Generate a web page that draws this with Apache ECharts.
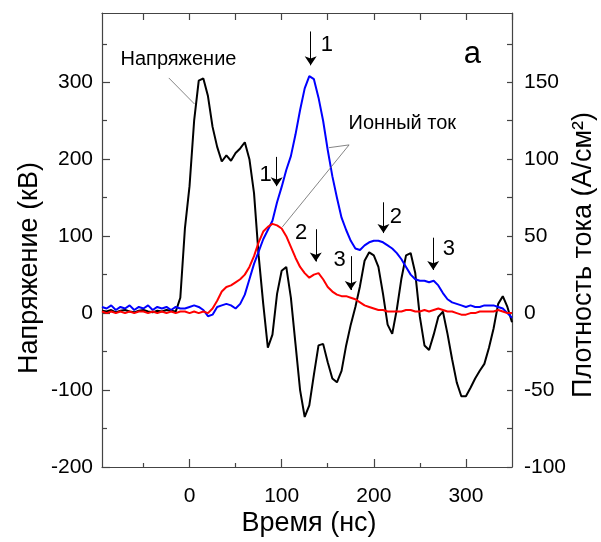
<!DOCTYPE html>
<html>
<head>
<meta charset="utf-8">
<script src="https://cdn.jsdelivr.net/npm/echarts@6/dist/echarts.min.js"></script>
<style>
html, body { margin: 0; padding: 0; background: #fff; }
#container { width: 601px; height: 542px; }
</style>
</head>
<body>
<div id="container"></div>
<script>
var dom = document.getElementById("container");
var myChart = echarts.init(dom);
var FONT = 'Liberation Sans, Arial, sans-serif';

// время, нс (шаг 5 нс)
var time = [];
for (var t = -95; t <= 350; t += 5) time.push(t);

// напряжение, кВ (левая ось)
var voltage = [
    3, 2, 4, 1, 3, 4, 2, 1, 3, 4, 2, 1, 3, 2, 4, 3, 2,        // -95 .. -15
    20, 110, 165, 250, 302, 305, 282, 242, 216, 197, 205, 198, // -10 .. 45
    208, 214, 222, 200, 156, 75, 12, -45, -28, 25, 55, 60,     // 50 .. 105
    20, -40, -100, -135, -120, -80, -42, -40, -64, -85, -90,   // 110 .. 160
    -75, -42, -15, 8, 35, 68, 79, 75, 60, 25, -15, -27, 5,     // 165 .. 225
    45, 75, 78, 52, -5, -42, -48, -28, -5, 2, -27, -60, -90,   // 230 .. 290
    -108, -108, -97, -85, -75, -66, -45, -20, 12, 22, 8, -12   // 295 .. 350
];

// плотность ионного тока 1 (синяя), А/см2 (правая ось)
var currentBlue = [
    4, 3, 5, 2, 4, 3, 5, 2, 4, 3, 5, 2, 4, 3, 4, 2, 4, 3,      // -95 .. -10
    3, 4, 5, 4, 2, -2, -1, 4, 5, 6, 5, 3, 6,                   // -5 .. 55
    12, 22, 32, 40, 48, 54, 60, 72, 82, 93, 102, 116, 132,     // 60 .. 120
    146, 154, 152, 140, 125, 106, 89, 75, 62, 54, 47, 42, 41,  // 125 .. 185
    44, 46, 47, 47, 46, 44, 42, 39, 35, 30, 25, 22, 21, 21,    // 190 .. 255
    20, 21, 18, 13, 9, 7, 6, 5, 4, 5, 4, 4, 5, 5, 5, 4, 3, 0, -3 // 260 .. 350
];

// плотность ионного тока 2 (красная), А/см2 (правая ось)
var currentRed = [
    1, 0, 1, 0, 1, 0, 1, 0, 1, 1, 0, 1, 0, 1, 0, 1, 0, 1,      // -95 .. -10
    1, 0, 1, 0, 1, 0,                                         // -5 .. 20
    3, 8, 14, 17, 18, 20, 22, 25, 30, 37, 46, 53, 56, 58, 57,  // 25 .. 95
    55, 50, 43, 36, 30, 26, 23, 25, 26, 22, 17, 14, 12, 11,    // 100 .. 165
    11, 10, 9, 7, 5, 4, 3, 2, 2, 1, 1, 1, 1, 2, 2, 1, 1, 2,    // 170 .. 255
    1, 2, 3, 2, 1, 1, 0, -1, -1, 0, 0, 1, 1, 1, 1, 2, 1, 0, 0  // 260 .. 350
];

// деления осей
var xLabels = [0, 100, 200, 300];
var xMinor = [-50, 50, 150, 250];
var xTop = [-50, 0, 50, 100, 150, 200, 250, 300, 350];
var yLeftLabels = [-200, -100, 0, 100, 200, 300];
var yLeftMinor = [-150, -50, 50, 150, 250, 350];
var yRightLabels = [-100, -50, 0, 50, 100, 150];
var yRightTicks = [-100, -75, -50, -25, 0, 25, 50, 75, 100, 125, 150, 175];

// подписи на графике (координаты в единицах левой оси)
var notes = [
    { name: 'Напряжение', coord: [-12, 329], size: 20 },
    { name: 'Ионный ток', coord: [231, 247], size: 20 },
    { name: 'а', coord: [307, 336], size: 31 },
    { name: '1', coord: [149, 349], size: 22 },
    { name: '1', coord: [82.5, 179], size: 22 },
    { name: '2', coord: [121, 104], size: 22 },
    { name: '3', coord: [163, 69], size: 22 },
    { name: '2', coord: [224, 125], size: 22 },
    { name: '3', coord: [281.5, 84], size: 22 }
];
// стрелки: [x, y начала, y конца]
var arrows = [
    [131.5, 366, 322],
    [94.6, 203, 165],
    [137, 109, 67],
    [175, 74, 30],
    [210.5, 144, 104],
    [264.5, 98, 56]
];
// выноски
var leaders = [
    [[-22.5, 305.6], [5.4, 271.7]],
    [[173.2, 218.6], [151.4, 215]],
    [[173.2, 218.6], [100.8, 112]]
];

function pairs(values) {
    return values.map(function (v, i) { return [time[i], v]; });
}

var axisColor = '#444';
var tickLabel = { color: '#000', fontSize: 21, fontFamily: FONT };

var markLineData = arrows.map(function (a) {
    return [{ coord: [a[0], a[1]], symbol: 'none' }, { coord: [a[0], a[2]], symbol: 'arrow' }];
}).concat(leaders.map(function (l) {
    return [
        { coord: l[0], symbol: 'none', lineStyle: { color: '#666', width: 0.8 } },
        { coord: l[1], symbol: 'none' }
    ];
}));

var option = {
    animation: false,
    backgroundColor: '#fff',
    grid: { left: 102, right: 89, top: 13, bottom: 75 },
    xAxis: [
        {
            type: 'value', position: 'bottom', min: -95, max: 350,
            axisLine: { show: true, onZero: false, lineStyle: { color: axisColor, width: 1.2 } },
            axisTick: { inside: true, length: 8, customValues: xLabels, lineStyle: { color: axisColor, width: 1.2 } },
            axisLabel: Object.assign({ margin: 19, customValues: xLabels }, tickLabel),
            splitLine: { show: false }
        },
        {
            type: 'value', position: 'bottom', min: -95, max: 350,
            axisLine: { show: false, onZero: false },
            axisTick: { inside: true, length: 4, customValues: xMinor, lineStyle: { color: axisColor, width: 1.2 } },
            axisLabel: { show: false },
            splitLine: { show: false }
        },
        {
            type: 'value', position: 'top', min: -95, max: 350,
            axisLine: { show: true, onZero: false, lineStyle: { color: axisColor, width: 1.2 } },
            axisTick: { inside: true, length: 7, customValues: xTop, lineStyle: { color: axisColor, width: 1.2 } },
            axisLabel: { show: false },
            splitLine: { show: false }
        }
    ],
    yAxis: [
        {
            type: 'value', position: 'left', min: -200, max: 390,
            axisLine: { show: true, onZero: false, lineStyle: { color: axisColor, width: 1.2 } },
            axisTick: { inside: true, length: 8, customValues: yLeftLabels, lineStyle: { color: axisColor, width: 1.2 } },
            axisLabel: Object.assign({ margin: 9, customValues: yLeftLabels }, tickLabel),
            splitLine: { show: false }
        },
        {
            type: 'value', position: 'left', min: -200, max: 390,
            axisLine: { show: false, onZero: false },
            axisTick: { inside: true, length: 5, customValues: yLeftMinor, lineStyle: { color: axisColor, width: 1.2 } },
            axisLabel: { show: false },
            splitLine: { show: false }
        },
        {
            type: 'value', position: 'right', min: -100, max: 195,
            axisLine: { show: true, onZero: false, lineStyle: { color: axisColor, width: 1.2 } },
            axisTick: { inside: true, length: 5, customValues: yRightTicks, lineStyle: { color: axisColor, width: 1.2 } },
            axisLabel: Object.assign({ margin: 12, customValues: yRightLabels }, tickLabel),
            splitLine: { show: false }
        }
    ],
    graphic: [
        { type: 'text', x: 309, y: 524, style: { text: 'Время (нс)', font: '27px ' + FONT, fill: '#000', textAlign: 'center', textVerticalAlign: 'middle' } },
        { type: 'text', x: 30, y: 268, rotation: Math.PI / 2, style: { text: 'Напряжение (кВ)', font: '27px ' + FONT, fill: '#000', textAlign: 'center', textVerticalAlign: 'middle' } },
        { type: 'text', x: 584, y: 255, rotation: Math.PI / 2, style: { text: 'Плотность тока (А/см²)', font: '27px ' + FONT, fill: '#000', textAlign: 'center', textVerticalAlign: 'middle' } }
    ],
    series: [
        {
            name: 'Напряжение', type: 'line', xAxisIndex: 0, yAxisIndex: 0,
            showSymbol: false, silent: true,
            lineStyle: { color: '#000', width: 2 },
            data: pairs(voltage),
            markLine: {
                silent: true, symbolSize: 9,
                label: { show: false },
                lineStyle: { color: '#000', width: 1, type: 'solid' },
                emphasis: { disabled: true },
                data: markLineData
            },
            markPoint: {
                silent: true, symbol: 'circle', symbolSize: 1,
                itemStyle: { color: 'rgba(0,0,0,0)' },
                data: notes.map(function (n) {
                    return { name: n.name, coord: n.coord, label: { fontSize: n.size } };
                }),
                label: { show: true, position: 'inside', formatter: '{b}', color: '#000', fontFamily: FONT }
            }
        },
        {
            name: 'Ток 1', type: 'line', xAxisIndex: 0, yAxisIndex: 2,
            showSymbol: false, silent: true,
            lineStyle: { color: '#0000ff', width: 2 },
            data: pairs(currentBlue)
        },
        {
            name: 'Ток 2', type: 'line', xAxisIndex: 0, yAxisIndex: 2,
            showSymbol: false, silent: true,
            lineStyle: { color: '#ff0000', width: 2 },
            data: pairs(currentRed)
        }
    ]
};

if (option && typeof option === "object") {
    myChart.setOption(option, true);
}
</script>
</body>
</html>
